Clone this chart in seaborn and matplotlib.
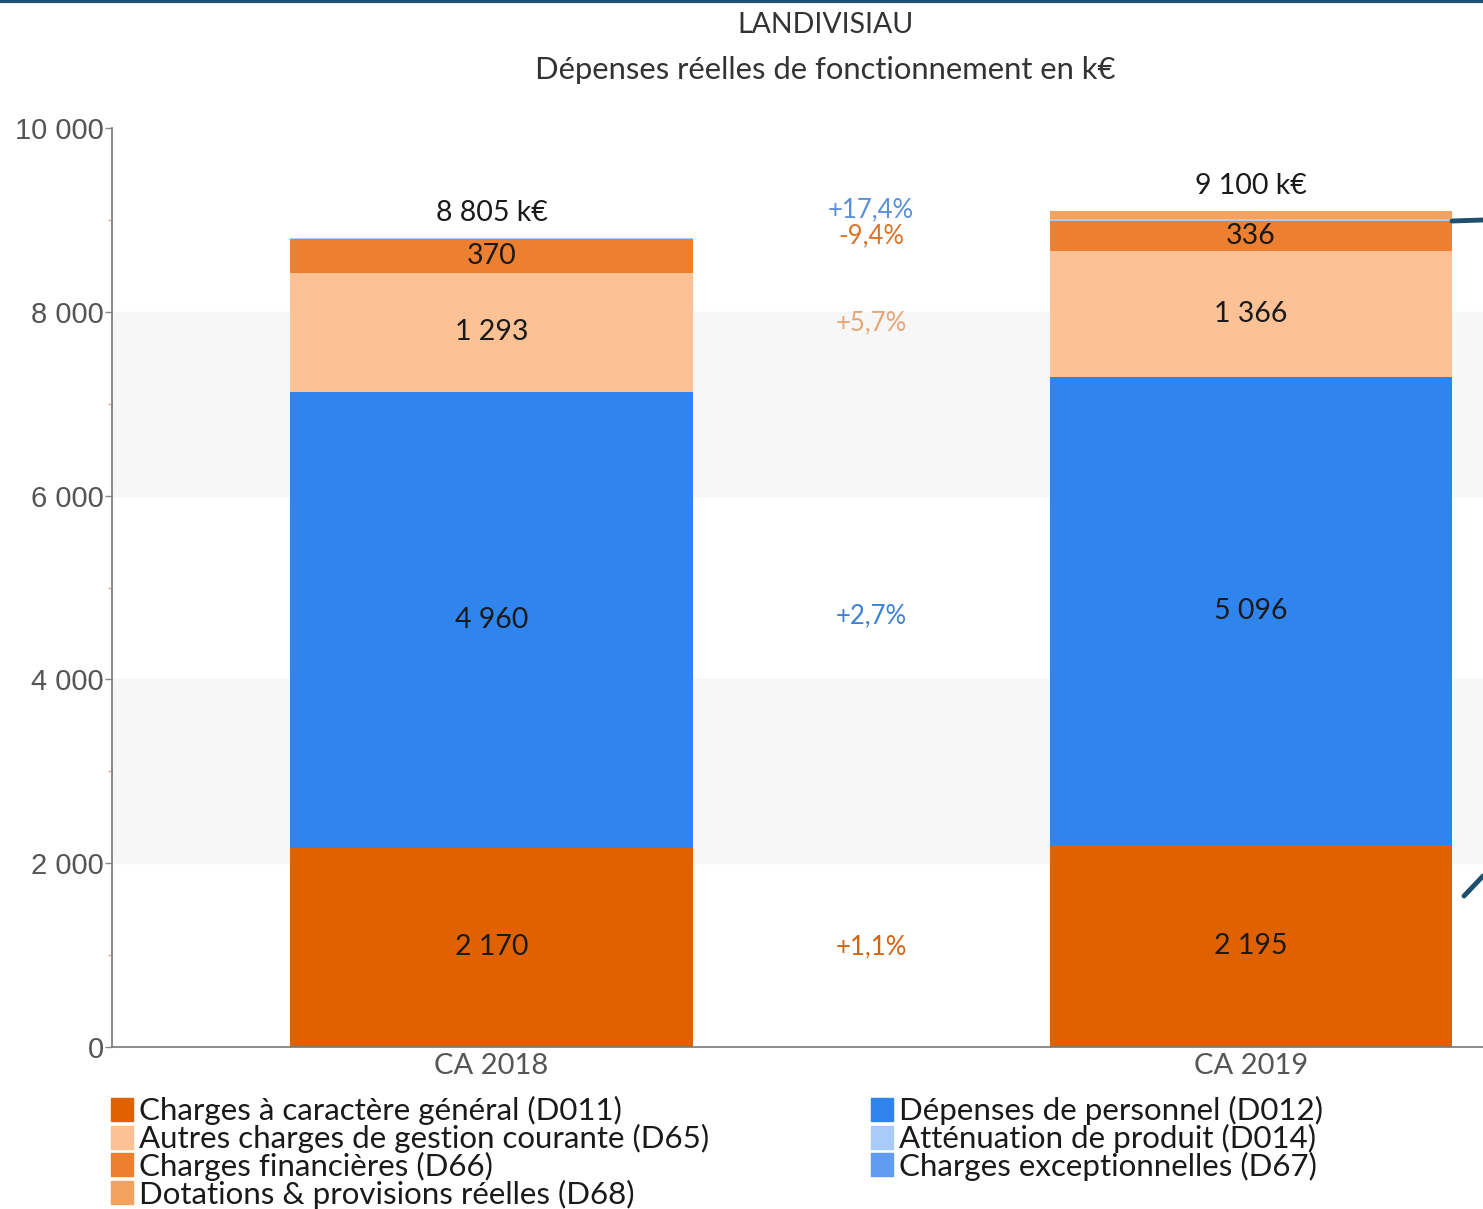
import numpy as np
import pandas as pd
import matplotlib
matplotlib.use("Agg")
import matplotlib.pyplot as plt
from matplotlib.patches import Patch
from matplotlib.lines import Line2D
import seaborn as sns

sns.set_theme(style="white")
plt.rcParams["font.family"] = ["Lato", "DejaVu Sans"]

# --- data -------------------------------------------------------------
years = ["CA 2018", "CA 2019"]
layers = ["D011", "D012", "D65", "D66", "D014", "D67", "D68"]
labels = {
    "D011": "Charges à caractère général (D011)",
    "D012": "Dépenses de personnel (D012)",
    "D65": "Autres charges de gestion courante (D65)",
    "D66": "Charges financières (D66)",
    "D014": "Atténuation de produit (D014)",
    "D67": "Charges exceptionnelles (D67)",
    "D68": "Dotations & provisions réelles (D68)",
}
d011 = [2170, 2195]
d012 = [4960, 5096]
d65 = [1293, 1366]
d66 = [370, 336]
d014 = [12, 14]
d67 = [0, 0]
d68 = [0, 93]
totals = [8805, 9100]
evolution = {"D011": "+1,1%", "D012": "+2,7%", "D65": "+5,7%",
             "D66": "-9,4%", "D014": "+17,4%"}
labelled = ["D011", "D012", "D65", "D66"]

colors = {
    "D011": "#e06100", "D012": "#2f84ee", "D65": "#fdc196", "D66": "#ed7f31",
    "D014": "#a8ccf6", "D67": "#5e9cef", "D68": "#f4a25f",
}
evo_colors = {"D011": "#d2640f", "D012": "#3d82da", "D65": "#e6a676",
              "D66": "#d8742c", "D014": "#5b8fd8"}

df = pd.DataFrame({"year": years, "D011": d011, "D012": d012, "D65": d65,
                   "D66": d66, "D014": d014, "D67": d67, "D68": d68})
cum = df[layers].cumsum(axis=1)

# --- figure -----------------------------------------------------------
fig = plt.figure(figsize=(14.83, 12.09), dpi=100)
ax = fig.add_axes([112 / 1483, 1 - 1047 / 1209, 1 - 112 / 1483, (1047 - 128) / 1209])

# alternating background bands
for lo in [2000, 6000]:
    ax.axhspan(lo, lo + 2000, color="#f7f7f7", zorder=0)

# stacked bars drawn from the top layer downwards
for layer in reversed(layers):
    sns.barplot(x=df["year"], y=cum[layer], color=colors[layer], width=0.53,
                saturation=1, linewidth=0, edgecolor="none", ax=ax, zorder=2)

text_color = "#1a1a1a"
for i, yr in enumerate(years):
    for layer in labelled:
        mid = cum.loc[i, layer] - df.loc[i, layer] / 2
        ax.text(i, mid, f"{df.loc[i, layer]:,}".replace(",", " "), ha="center",
                va="center", fontsize=20.5, color=text_color, zorder=3)
    ax.text(i, cum.loc[i, layers[-1]] + 270, f"{totals[i]:,} k€".replace(",", " "),
            ha="center", va="center", fontsize=20.5, color=text_color, zorder=3)

# evolution labels between the bars
for layer in ["D011", "D012", "D65"]:
    mid = np.mean([cum.loc[i, layer] - df.loc[i, layer] / 2 for i in range(2)])
    ax.text(0.5, mid, evolution[layer], ha="center", va="center", fontsize=18.5,
            color=evo_colors[layer])
y66 = max(cum.loc[i, "D66"] - df.loc[i, "D66"] / 2 for i in range(2))
ax.text(0.5, y66, evolution["D66"], ha="center", va="center", fontsize=18.5,
        color=evo_colors["D66"])
ax.text(0.5, y66 + 290, evolution["D014"], ha="center", va="center", fontsize=18.5,
        color=evo_colors["D014"])

# axes styling
ax.set_xlim(-0.5, 1.306)
ax.set_ylim(0, 10000)
ax.set_yticks(range(0, 10001, 2000))
ax.set_yticklabels([f"{v:,}".replace(",", " ") for v in range(0, 10001, 2000)],
                   fontsize=21, color="#555555", family="Liberation Sans")
ax.set_yticks(range(1000, 10000, 2000), minor=True)
ax.tick_params(axis="y", which="major", left=True, length=5, width=1,
               color="#888888", pad=1)
ax.tick_params(axis="y", which="minor", left=True, length=3, width=1,
               color="#f2a0a0")
ax.tick_params(axis="x", length=0, pad=4, labelsize=21, labelcolor="#555555")
ax.set_xlabel("")
ax.set_ylabel("")
for s in ["top", "right"]:
    ax.spines[s].set_visible(False)
for s in ["left", "bottom"]:
    ax.spines[s].set_color("#777777")
    ax.spines[s].set_linewidth(1.2)

# titles
fig.text(825 / 1483, 1 - 25 / 1209, "LANDIVISIAU", ha="center", va="center",
         fontsize=20.5, color="#333333")
fig.text(825 / 1483, 1 - 70 / 1209, "Dépenses réelles de fonctionnement en k€",
         ha="center", va="center", fontsize=22.3, color="#333333")

# frame remnants of the original screenshot
fig.add_artist(Line2D([0, 1], [0.999, 0.999], transform=fig.transFigure,
                      color="#1d4f6e", lw=3))
fig.add_artist(Line2D([1452 / 1483, 1], [1 - 221 / 1209, 1 - 220 / 1209],
                      transform=fig.transFigure, color="#1d4f6e", lw=3.5))
fig.add_artist(Line2D([1464 / 1483, 1], [1 - 896 / 1209, 1 - 876 / 1209],
                      transform=fig.transFigure, color="#1d4f6e", lw=3.5))

# legends (two columns)
left_items = ["D011", "D65", "D66", "D68"]
right_items = ["D012", "D014", "D67"]
common = dict(frameon=False, fontsize=22.5, handlelength=0.7, handleheight=0.75,
              handletextpad=0.2, labelspacing=-0.04, borderpad=0, borderaxespad=0,
              labelcolor="#1a1a1a")
leg1 = fig.legend([Patch(color=colors[k]) for k in left_items],
                  [labels[k] for k in left_items], loc="upper left",
                  bbox_to_anchor=(111 / 1483, 1 - 1096 / 1209), **common)
leg2 = fig.legend([Patch(color=colors[k]) for k in right_items],
                  [labels[k] for k in right_items], loc="upper left",
                  bbox_to_anchor=(871 / 1483, 1 - 1096 / 1209), **common)

fig.savefig("out.png", dpi=100)
